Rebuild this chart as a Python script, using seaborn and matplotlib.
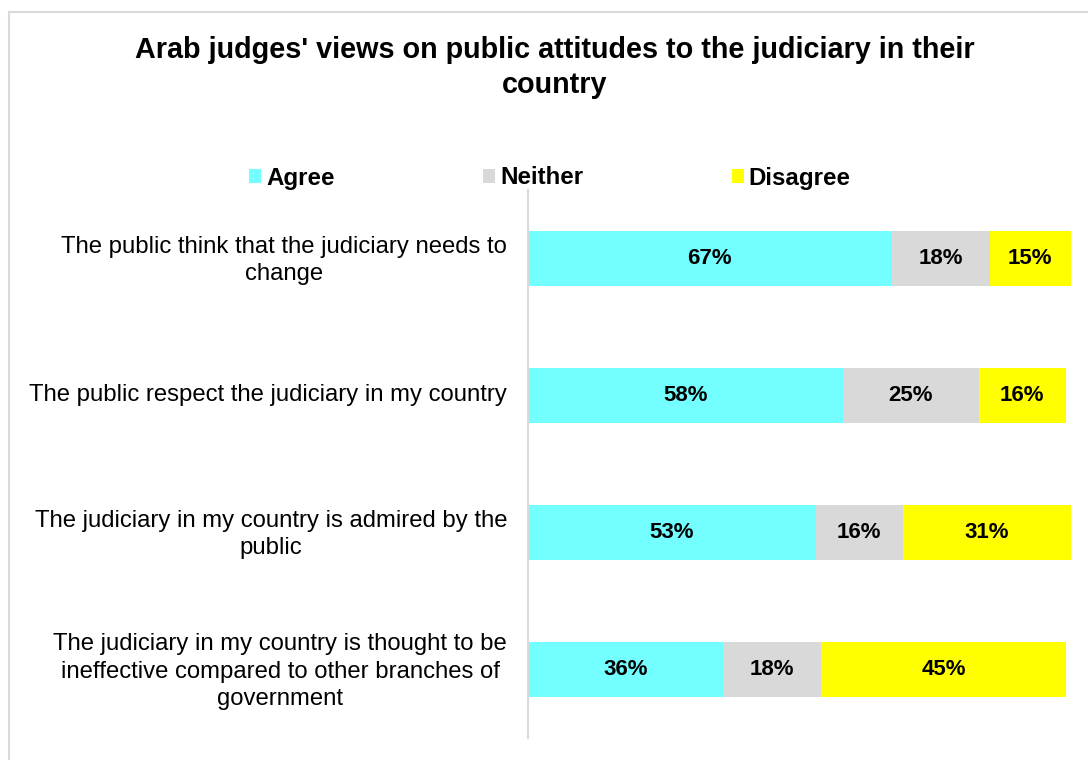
import matplotlib
matplotlib.use("Agg")
import matplotlib.pyplot as plt
import matplotlib.patches as mpatches
from matplotlib.transforms import ScaledTranslation
import seaborn as sns
import pandas as pd

# Survey data (percent of respondents)
statements = [
    "The public think that the judiciary needs to\nchange",
    "The public respect the judiciary in my country",
    "The judiciary in my country is admired by the\npublic",
    "The judiciary in my country is thought to be\nineffective compared to other branches of\ngovernment",
]
agree = [67, 58, 53, 36]
neither = [18, 25, 16, 18]
disagree = [15, 16, 31, 45]

series_names = ["Agree", "Neither", "Disagree"]
series_colors = ["#73FFFF", "#D9D9D9", "#FFFF00"]

df = pd.DataFrame({"statement": statements, "Agree": agree,
                   "Neither": neither, "Disagree": disagree})
df["cum_agree"] = df["Agree"]
df["cum_neither"] = df["Agree"] + df["Neither"]
df["cum_disagree"] = df["Agree"] + df["Neither"] + df["Disagree"]

sns.set_theme(style="white")
plt.rcParams["font.family"] = ["Liberation Sans", "DejaVu Sans"]
plt.rcParams["text.color"] = "black"
plt.rcParams["ytick.color"] = "black"
plt.rcParams["ytick.labelcolor"] = "black"

W, H = 1088, 760
fig = plt.figure(figsize=(W / 100, H / 100), dpi=100)
ax = fig.add_axes([528 / W, 1 - 738 / H, (1071 - 528) / W, (738 - 190) / H])

# Stacked bars: draw cumulative totals from longest to shortest
bar_w = 0.40
for col, color in [("cum_disagree", series_colors[2]),
                   ("cum_neither", series_colors[1]),
                   ("cum_agree", series_colors[0])]:
    sns.barplot(data=df, x=col, y="statement", orient="h", color=color,
                width=bar_w, saturation=1, linewidth=0, ax=ax)

# Value labels centred in each segment
for i in range(len(statements)):
    start = 0
    for vals in (agree, neither, disagree):
        v = vals[i]
        ax.text(start + v / 2, i, f"{v}%", ha="center", va="center",
                fontsize=16, fontweight="bold", color="black")
        start += v

ax.set_xlim(0, 100)
ax.set_ylim(len(statements) - 0.5, -0.5)
ax.set_xlabel("")
ax.set_ylabel("")
ax.set_xticks([])
ax.tick_params(axis="y", length=0, pad=15)
nudge = ScaledTranslation(0, 3 / 100, fig.dpi_scale_trans)
for lbl in ax.get_yticklabels():
    lbl.set_fontsize(17.2)
    lbl.set_color("black")
    lbl.set_multialignment("center")
    lbl.set_linespacing(1.3)
    lbl.set_transform(lbl.get_transform() + nudge)
for s in ["top", "right", "bottom"]:
    ax.spines[s].set_visible(False)
ax.spines["left"].set_color("#D9D9D9")
ax.spines["left"].set_linewidth(1.5)

# Title
fig.text(555 / W, 1 - 67.5 / H,
         "Arab judges' views on public attitudes to the judiciary in their\ncountry",
         ha="center", va="center", fontsize=20.7, fontweight="bold",
         color="black", linespacing=1.32)

# Legend
handles = [mpatches.Patch(facecolor=c, edgecolor="none", label=n)
           for n, c in zip(series_names, series_colors)]
leg = fig.legend(handles=handles, loc="center left",
                 bbox_to_anchor=(249 / W, 1 - 178 / H), ncol=3,
                 frameon=False, borderpad=0, borderaxespad=0,
                 handlelength=0.5, handleheight=0.5, handletextpad=0.2,
                 columnspacing=6.15,
                 prop={"size": 17.4, "weight": "bold"})
for t in leg.get_texts():
    t.set_color("black")

# Outer chart border
fig.patches.append(mpatches.Rectangle((9 / W, -0.05), 1.1, 1 - 12 / H + 0.05,
                                      transform=fig.transFigure, fill=False,
                                      edgecolor="#D9D9D9", linewidth=1.5))

fig.savefig("out.png", dpi=100, facecolor="white")
